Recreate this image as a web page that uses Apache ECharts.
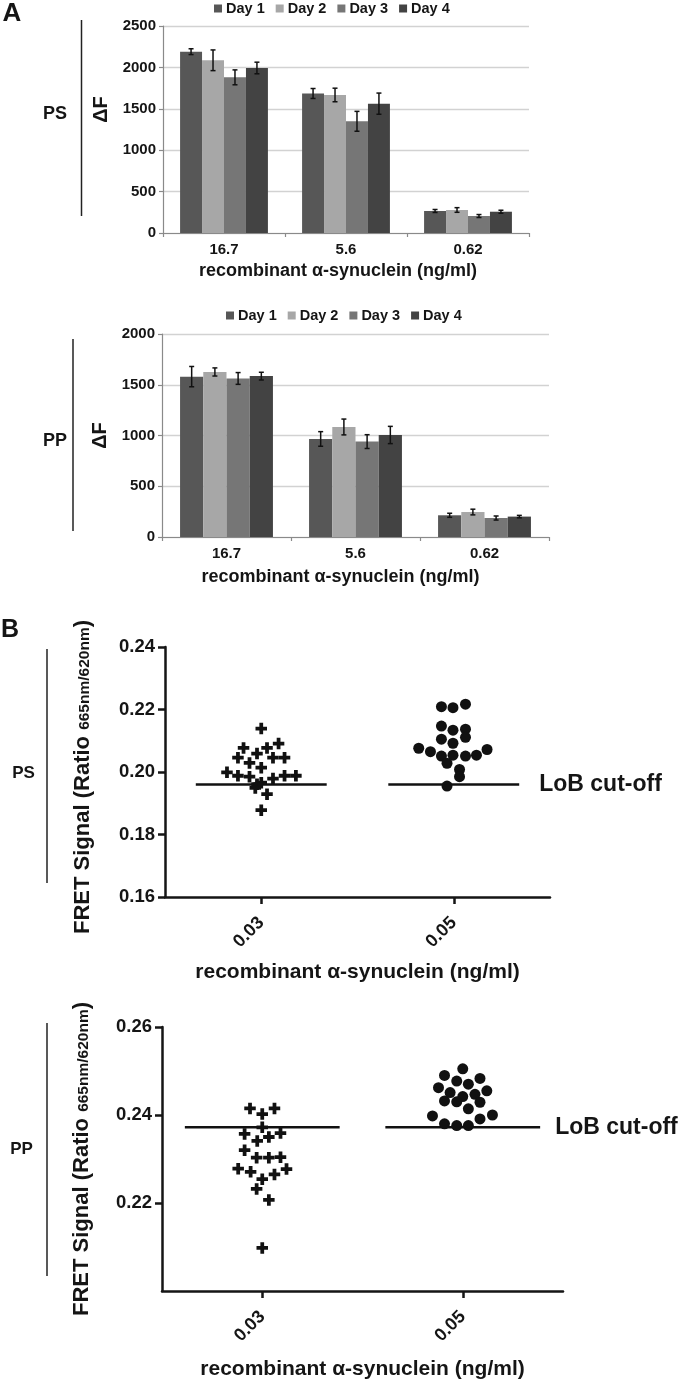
<!DOCTYPE html>
<html>
<head>
<meta charset="utf-8">
<script src="https://cdn.jsdelivr.net/npm/echarts@6/dist/echarts.min.js"></script>
<style>
html,body{margin:0;padding:0;background:#fff;}
#chart{width:693px;height:1381px;}
</style>
</head>
<body>
<div id="chart"></div>
<script>
// ---------- Panel A data ----------
const barCats = ['16.7', '5.6', '0.62'];
const dayNames = ['Day 1', 'Day 2', 'Day 3', 'Day 4'];
// PS
const psDay1 = [2190, 1685, 266];
const psDay2 = [2086, 1667, 278];
const psDay3 = [1880, 1349, 205];
const psDay4 = [1993, 1562, 257];
const psErr1 = [35, 60, 18];
const psErr2 = [125, 82, 28];
const psErr3 = [90, 120, 18];
const psErr4 = [70, 128, 18];
// PP
const ppDay1 = [1580, 966, 214];
const ppDay2 = [1626, 1084, 246];
const ppDay3 = [1562, 940, 187];
const ppDay4 = [1585, 1005, 201];
const ppErr1 = [100, 72, 20];
const ppErr2 = [40, 78, 28];
const ppErr3 = [58, 68, 20];
const ppErr4 = [38, 85, 12];
const psBarTicks = [0, 500, 1000, 1500, 2000, 2500];
const ppBarTicks = [0, 500, 1000, 1500, 2000];

// ---------- Panel B data ----------
const scatCats = ['0.03', '0.05'];
const psLowY = [0.2139, 0.2077, 0.2077, 0.2091, 0.2059, 0.2046, 0.2046, 0.2046, 0.2029, 0.2014, 0.1999,
  0.1988, 0.1985, 0.1979, 0.1988, 0.1988, 0.1966, 0.1961, 0.1949, 0.1929, 0.1878];
const psLowJitter = [0, -0.092, 0.030, 0.090, -0.022, -0.121, 0.061, 0.121, -0.061, 0, -0.178,
  -0.121, -0.061, 0.061, 0.121, 0.180, 0, -0.022, -0.031, 0.030, 0];
const psHighY = [0.2209, 0.2206, 0.2217, 0.2147, 0.2134, 0.2137, 0.2111, 0.2105, 0.2092, 0.2076,
  0.2065, 0.2072, 0.2054, 0.2051, 0.2054, 0.2051, 0.2028, 0.2008, 0.1985, 0.1955];
const psHighJitter = [-0.064, -0.004, 0.061, -0.064, -0.004, 0.061, 0.061, -0.064, -0.004, -0.182,
  -0.121, 0.173, 0.118, -0.064, -0.004, 0.061, -0.035, 0.030, 0.030, -0.035];
const ppLowY = [0.2415, 0.2415, 0.2402, 0.2372, 0.2357, 0.2341, 0.2350, 0.2359, 0.2320, 0.2303,
  0.2303, 0.2304, 0.2278, 0.2271, 0.2265, 0.2277, 0.2254, 0.2232, 0.2207, 0.2098];
const ppLowJitter = [-0.061, 0.061, 0, 0, -0.088, -0.025, 0.033, 0.091, -0.088, -0.028,
  0.033, 0.091, -0.120, -0.058, 0.061, 0.121, 0, -0.028, 0.033, 0];
const ppHighY = [0.2505, 0.2490, 0.2483, 0.2477, 0.2470, 0.2462, 0.2455, 0.2451, 0.2447, 0.2442,
  0.2432, 0.2430, 0.2429, 0.2414, 0.2398, 0.2400, 0.2391, 0.2380, 0.2376, 0.2376];
const ppHighJitter = [0, -0.091, 0.086, -0.030, 0.028, -0.121, 0.120, -0.063, 0.061, 0,
  -0.091, -0.030, 0.086, 0.028, -0.151, 0.148, 0.086, -0.091, -0.030, 0.028];
const psLob = 0.196;
const ppLob = 0.2372;
const psScatTicks = [0.16, 0.18, 0.20, 0.22, 0.24];
const ppScatTicks = [0.22, 0.24, 0.26];

// ---------- styling ----------
const FONT = 'Liberation Sans, Arial, Helvetica, sans-serif';
const TXT = '#151515';
const dayColors = ['#575757', '#a7a7a7', '#767676', '#434343'];
const BAR_GAP_CAT = 0.28;

function errRender(params, api) {
  const cat = api.value(0), day = api.value(1), mean = api.value(2), err = api.value(3);
  const band = api.size([1, 0])[0];
  const barW = band * (1 - BAR_GAP_CAT) / 4;
  const cx = api.coord([cat, mean])[0] + (day - 1.5) * barW;
  const top = api.coord([cat, mean + err])[1];
  const bot = api.coord([cat, mean - err])[1];
  const cap = 2.5;
  const st = { stroke: '#111', lineWidth: 1.5 };
  return {
    type: 'group',
    children: [
      { type: 'line', shape: { x1: cx, y1: top, x2: cx, y2: bot }, style: st },
      { type: 'line', shape: { x1: cx - cap, y1: top, x2: cx + cap, y2: top }, style: st },
      { type: 'line', shape: { x1: cx - cap, y1: bot, x2: cx + cap, y2: bot }, style: st }
    ]
  };
}

function errData(means, errs) {
  const out = [];
  means.forEach((m, d) => m.forEach((v, c) => out.push([c, d, v, errs[d][c]])));
  return out;
}

function lobRender(halfW, gap) {
  return function (params, api) {
    const x = api.value(0), y = api.value(1);
    const p = api.coord([x, y]);
    const h = api.size([halfW, 0])[0];
    const children = [
      { type: 'line', shape: { x1: p[0] - h, y1: p[1], x2: p[0] + h, y2: p[1] }, style: { stroke: '#111', lineWidth: 2.5 } }
    ];
    if (params.dataIndex === params.dataInsideLength - 1) {
      children.push({
        type: 'text',
        style: { x: p[0] + h + gap, y: p[1], text: 'LoB cut-off', fill: TXT, font: 'bold 23px ' + FONT, textVerticalAlign: 'middle', textAlign: 'left' }
      });
    }
    return { type: 'group', children };
  };
}

function jitterData(catIdx, ys, jit) {
  return ys.map((y, i) => [catIdx + 0.5 + jit[i], y]);
}

const plusPath = 'path://M3.7,0H7.3V3.7H11V7.3H7.3V11H3.7V7.3H0V3.7H3.7Z';

function barXAxis(gridIndex, nameGap, shift) {
  return {
    type: 'category', gridIndex, data: barCats,
    axisLine: { lineStyle: { color: '#8a8a8a', width: 1.2 } },
    axisTick: { show: true, length: 4, lineStyle: { color: '#8a8a8a', width: 1.2 } },
    axisLabel: { color: TXT, fontFamily: FONT, fontWeight: 'bold', fontSize: 15, margin: 9 },
    name: 'recombinant α-synuclein (ng/ml)', nameLocation: 'middle', nameGap,
    nameTextStyle: { color: TXT, fontFamily: FONT, fontWeight: 'bold', fontSize: 18, padding: [0, shift, 0, 0] }
  };
}
function barYAxis(gridIndex, ticks, padLeft) {
  return {
    type: 'value', gridIndex, min: ticks[0], max: ticks[ticks.length - 1], interval: ticks[1] - ticks[0],
    axisLine: { show: true, lineStyle: { color: '#8a8a8a', width: 1.2 } },
    axisTick: { show: true, length: 4, lineStyle: { color: '#8a8a8a', width: 1.2 } },
    axisLabel: { color: TXT, fontFamily: FONT, fontWeight: 'bold', fontSize: 15, margin: 7, formatter: v => String(v) },
    splitLine: { lineStyle: { color: '#d2d2d2', width: 1.3 } },
    name: 'ΔF', nameLocation: 'middle', nameGap: 50, nameRotate: 90,
    nameTextStyle: { color: TXT, fontFamily: FONT, fontWeight: 'bold', fontSize: 20, padding: [0, 0, 0, padLeft] }
  };
}
function scatXAxis(gridIndex, nameGap) {
  return {
    type: 'value', gridIndex, min: 0, max: 2,
    splitLine: { show: false },
    axisLine: { show: true, lineStyle: { color: '#151515', width: 2.5 } },
    axisTick: { show: true, customValues: [0.5, 1.5], length: 7, lineStyle: { color: '#151515', width: 2.5 } },
    axisLabel: {
      customValues: [0.5, 1.5], rotate: 45, margin: 23,
      formatter: v => scatCats[Math.round(v - 0.5)],
      color: TXT, fontFamily: FONT, fontWeight: 'bold', fontSize: 18
    },
    name: 'recombinant α-synuclein (ng/ml)', nameLocation: 'middle', nameGap,
    nameTextStyle: { color: TXT, fontFamily: FONT, fontWeight: 'bold', fontSize: 21 }
  };
}
function scatYAxis(gridIndex, min, max, ticks, nameGap, pad) {
  return {
    type: 'value', gridIndex, min, max, interval: 0.02,
    splitLine: { show: false },
    axisLine: { show: true, lineStyle: { color: '#151515', width: 2.5 } },
    axisTick: { show: true, customValues: ticks, length: 7, lineStyle: { color: '#151515', width: 2.5 } },
    axisLabel: {
      customValues: ticks, margin: 10, formatter: v => Number(v).toFixed(2),
      color: TXT, fontFamily: FONT, fontWeight: 'bold', fontSize: 18.5
    },
    name: '{a|FRET Signal (Ratio }{b|665nm/620nm}{a|)}', nameLocation: 'middle', nameGap, nameRotate: 90,
    nameTextStyle: {
      padding: pad,
      rich: {
        a: { color: TXT, fontFamily: FONT, fontWeight: 'bold', fontSize: 22, verticalAlign: 'bottom' },
        b: { color: TXT, fontFamily: FONT, fontWeight: 'bold', fontSize: 15.5, verticalAlign: 'bottom', padding: [0, 0, 1, 0] }
      }
    }
  };
}

const psMeans = [psDay1, psDay2, psDay3, psDay4];
const psErrs = [psErr1, psErr2, psErr3, psErr4];
const ppMeans = [ppDay1, ppDay2, ppDay3, ppDay4];
const ppErrs = [ppErr1, ppErr2, ppErr3, ppErr4];

const series = [];
[psMeans, ppMeans].forEach((means, g) => {
  means.forEach((vals, d) => {
    series.push({
      type: 'bar', name: dayNames[d], xAxisIndex: g, yAxisIndex: g, data: vals,
      barGap: '0%', barCategoryGap: (BAR_GAP_CAT * 100) + '%',
      itemStyle: { color: dayColors[d] }, z: 2
    });
  });
});
series.push({ type: 'custom', name: 'psErr', xAxisIndex: 0, yAxisIndex: 0, renderItem: errRender, data: errData(psMeans, psErrs), z: 5, encode: { x: 0, y: 2 } });
series.push({ type: 'custom', name: 'ppErr', xAxisIndex: 1, yAxisIndex: 1, renderItem: errRender, data: errData(ppMeans, ppErrs), z: 5, encode: { x: 0, y: 2 } });

// Panel B
series.push({ type: 'scatter', name: 'PS 0.03', xAxisIndex: 2, yAxisIndex: 2, symbol: plusPath, symbolSize: 11.5, itemStyle: { color: '#111', opacity: 1 }, data: jitterData(0, psLowY, psLowJitter), z: 4 });
series.push({ type: 'scatter', name: 'PS 0.05', xAxisIndex: 2, yAxisIndex: 2, symbol: 'circle', symbolSize: 11, itemStyle: { color: '#111', opacity: 1 }, data: jitterData(1, psHighY, psHighJitter), z: 4 });
series.push({ type: 'custom', name: 'PS LoB', xAxisIndex: 2, yAxisIndex: 2, renderItem: lobRender(0.34, 20), data: scatCats.map((c, i) => [i + 0.5, psLob]), z: 3 });
series.push({ type: 'scatter', name: 'PP 0.03', xAxisIndex: 3, yAxisIndex: 3, symbol: plusPath, symbolSize: 11.5, itemStyle: { color: '#111', opacity: 1 }, data: jitterData(0, ppLowY, ppLowJitter), z: 4 });
series.push({ type: 'scatter', name: 'PP 0.05', xAxisIndex: 3, yAxisIndex: 3, symbol: 'circle', symbolSize: 11, itemStyle: { color: '#111', opacity: 1 }, data: jitterData(1, ppHighY, ppHighJitter), z: 4 });
series.push({ type: 'custom', name: 'PP LoB', xAxisIndex: 3, yAxisIndex: 3, renderItem: lobRender(0.386, 15), data: scatCats.map((c, i) => [i + 0.5, ppLob]), z: 3 });

const legendBase = {
  icon: 'rect', itemWidth: 8, itemHeight: 8, itemGap: 11, padding: 0, data: dayNames,
  selectedMode: false,
  textStyle: { color: TXT, fontFamily: FONT, fontWeight: 'bold', fontSize: 14.5, padding: [0, 0, 0, -1] }
};

const sideText = (t, x, y, size) => ({
  type: 'text', x, y,
  style: { text: t, fill: TXT, font: 'bold ' + size + 'px ' + FONT, textAlign: 'center', textVerticalAlign: 'middle' }
});
const vLine = (x, y1, y2) => ({
  type: 'line', shape: { x1: x, y1, x2: x, y2 }, style: { stroke: '#222', lineWidth: 1.5 }
});

const option = {
  backgroundColor: '#fff',
  animation: false,
  textStyle: { fontFamily: FONT },
  legend: [
    Object.assign({}, legendBase, { left: 214, top: 1 }),
    Object.assign({}, legendBase, { left: 226, top: 308 })
  ],
  grid: [
    { left: 163, top: 26, width: 366, height: 207 },
    { left: 162, top: 334, width: 387, height: 203 },
    { left: 165, top: 647, width: 385, height: 250 },
    { left: 162, top: 1027, width: 401, height: 265 }
  ],
  xAxis: [
    barXAxis(0, 29, 16),
    barXAxis(1, 31, 30),
    scatXAxis(2, 65),
    scatXAxis(3, 68)
  ],
  yAxis: [
    barYAxis(0, psBarTicks, 40),
    barYAxis(1, ppBarTicks, 0),
    scatYAxis(2, 0.16, 0.24, psScatTicks, 71, [0, 10, 0, 0]),
    scatYAxis(3, 0.20, 0.26, ppScatTicks, 69, [0, 0, 0, 0])
  ],
  graphic: [
    sideText('A', 12, 14, 26),
    vLine(81.5, 20, 216),
    sideText('PS', 55, 114, 18),
    vLine(73, 339, 531),
    sideText('PP', 55, 441, 18),
    sideText('B', 10, 630, 25),
    vLine(47, 649, 883),
    sideText('PS', 23.5, 773, 17),
    vLine(47, 1023, 1276),
    sideText('PP', 21.5, 1149, 17)
  ],
  series
};

const chart = echarts.init(document.getElementById('chart'), null, { renderer: 'canvas' });
chart.setOption(option);
</script>
</body>
</html>
